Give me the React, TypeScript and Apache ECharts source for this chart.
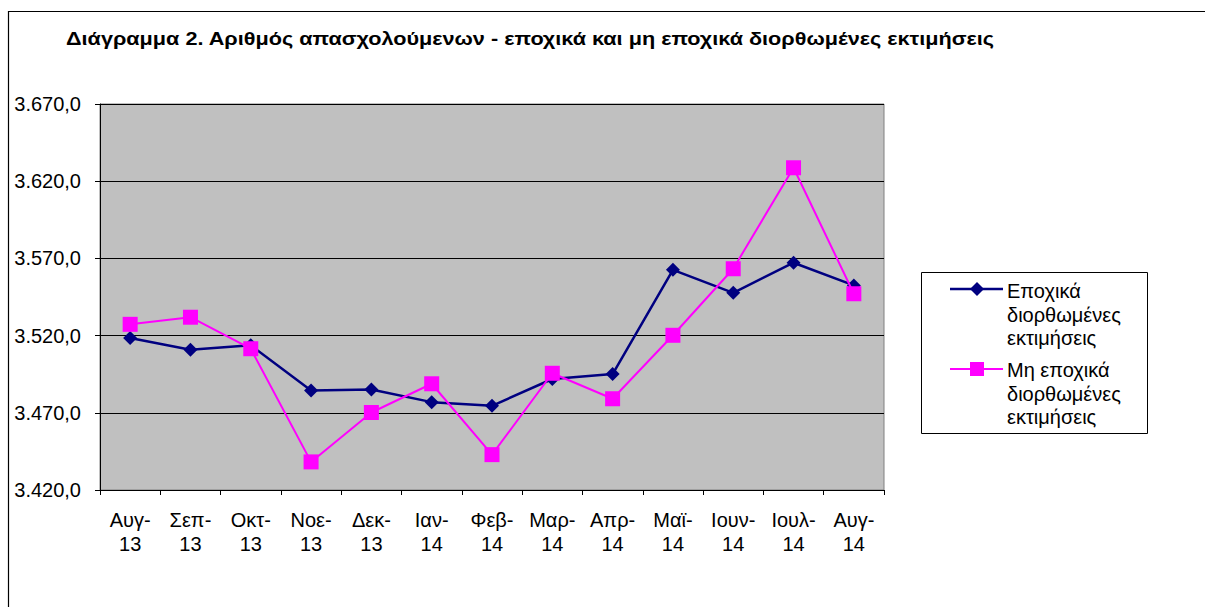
import React, { useEffect, useRef } from "react";
import * as echarts from "echarts";

const categories = ["Αυγ-\n13", "Σεπ-\n13", "Οκτ-\n13", "Νοε-\n13", "Δεκ-\n13", "Ιαν-\n14", "Φεβ-\n14", "Μαρ-\n14", "Απρ-\n14", "Μαϊ-\n14", "Ιουν-\n14", "Ιουλ-\n14", "Αυγ-\n14"];
const seasonallyAdjusted = [3518.4, 3510.9, 3513.7, 3484.5, 3485.1, 3476.9, 3474.5, 3491.9, 3495.1, 3562.6, 3547.7, 3567.2, 3552.5];
const notSeasonallyAdjusted = [3527.3, 3531.9, 3511.5, 3438.2, 3470.2, 3488.8, 3442.9, 3495.6, 3479.1, 3520.2, 3563.3, 3628.7, 3547.1];
const seriesNames = ["Εποχικά διορθωμένες εκτιμήσεις", "Μη εποχικά διορθωμένες εκτιμήσεις"];
const legendLines = [["Εποχικά", "διορθωμένες", "εκτιμήσεις"], ["Μη εποχικά", "διορθωμένες", "εκτιμήσεις"]];
const title = "Διάγραμμα 2. Αριθμός απασχολούμενων - εποχικά και μη εποχικά διορθωμένες εκτιμήσεις";

const FONT = "'Liberation Sans', Arial, sans-serif";

function fmt(v: number) {
  const s = v.toFixed(1);
  const [i, d] = s.split(".");
  return i.replace(/\B(?=(\d{3})+(?!\d))/g, ".") + "," + d;
}

export default function App() {
  const ref = useRef<HTMLDivElement>(null);
  useEffect(() => {
    const chart = echarts.init(ref.current!, null, { renderer: "svg" });
    const legendTexts = (lines: string[], y0: number) =>
      lines.map((t, i) => ({
        type: "text",
        x: 1007,
        y: y0 + i * 23.5,
        style: { text: t, font: `20px ${FONT}`, fill: "#000", verticalAlign: "middle", align: "left" },
      }));
    chart.setOption({
      animation: false,
      backgroundColor: "#fff",
      grid: {
        left: 100,
        top: 104,
        right: 321,
        bottom: 117,
        show: true,
        backgroundColor: "#C0C0C0",
        borderColor: "#808080",
        borderWidth: 1,
      },
      xAxis: {
        type: "category",
        data: categories,
        boundaryGap: true,
        axisLine: { lineStyle: { color: "#000", width: 1 } },
        axisTick: { show: true, length: 5, lineStyle: { color: "#000" } },
        axisLabel: { color: "#000", fontSize: 20, fontFamily: FONT, margin: 18, lineHeight: 24, interval: 0 },
      },
      yAxis: {
        type: "value",
        min: 3420,
        max: 3670,
        interval: 50,
        axisLine: { show: true, lineStyle: { color: "#000", width: 1 } },
        axisTick: { show: true, length: 5, lineStyle: { color: "#000" } },
        splitLine: { show: true, lineStyle: { color: "#000", width: 1 } },
        axisLabel: { color: "#000", fontSize: 20, fontFamily: FONT, margin: 19, formatter: (v: number) => fmt(v) },
      },
      series: [
        {
          name: seriesNames[0],
          type: "line",
          data: seasonallyAdjusted,
          symbol: "diamond",
          symbolSize: 14,
          lineStyle: { color: "#000080", width: 2.5 },
          itemStyle: { color: "#000080" },
          z: 2,
        },
        {
          name: seriesNames[1],
          type: "line",
          data: notSeasonallyAdjusted,
          symbol: "rect",
          symbolSize: 15,
          lineStyle: { color: "#FF00FF", width: 2 },
          itemStyle: { color: "#FF00FF" },
          z: 3,
        },
      ],
      graphic: [
        {
          type: "polyline",
          shape: { points: [[8.5, 700], [8.5, 11.5], [1210, 11.5]] },
          style: { fill: "none", stroke: "#000", lineWidth: 1.2 },
          silent: true,
        },
        {
          type: "text",
          x: 66,
          y: 38,
          scaleX: 1.14,
          style: { text: title, font: `bold 19px ${FONT}`, fill: "#000", verticalAlign: "middle", align: "left" },
        },
        {
          type: "rect",
          shape: { x: 921.5, y: 272.5, width: 226, height: 161 },
          style: { fill: "#fff", stroke: "#000", lineWidth: 1 },
        },
        {
          type: "line",
          shape: { x1: 950, y1: 289, x2: 1003, y2: 289 },
          style: { stroke: "#000080", lineWidth: 2.5 },
        },
        {
          type: "polygon",
          shape: { points: [[977, 282], [984, 289], [977, 296], [970, 289]] },
          style: { fill: "#000080" },
        },
        {
          type: "line",
          shape: { x1: 950, y1: 369, x2: 1003, y2: 369 },
          style: { stroke: "#FF00FF", lineWidth: 2 },
        },
        {
          type: "rect",
          shape: { x: 970, y: 362, width: 14, height: 14 },
          style: { fill: "#FF00FF" },
        },
        ...legendTexts(legendLines[0], 291),
        ...legendTexts(legendLines[1], 370),
      ],
    });
    return () => chart.dispose();
  }, []);
  return <div ref={ref} style={{ position: "absolute", left: 0, top: 0, width: 1205, height: 607 }} />;
}
